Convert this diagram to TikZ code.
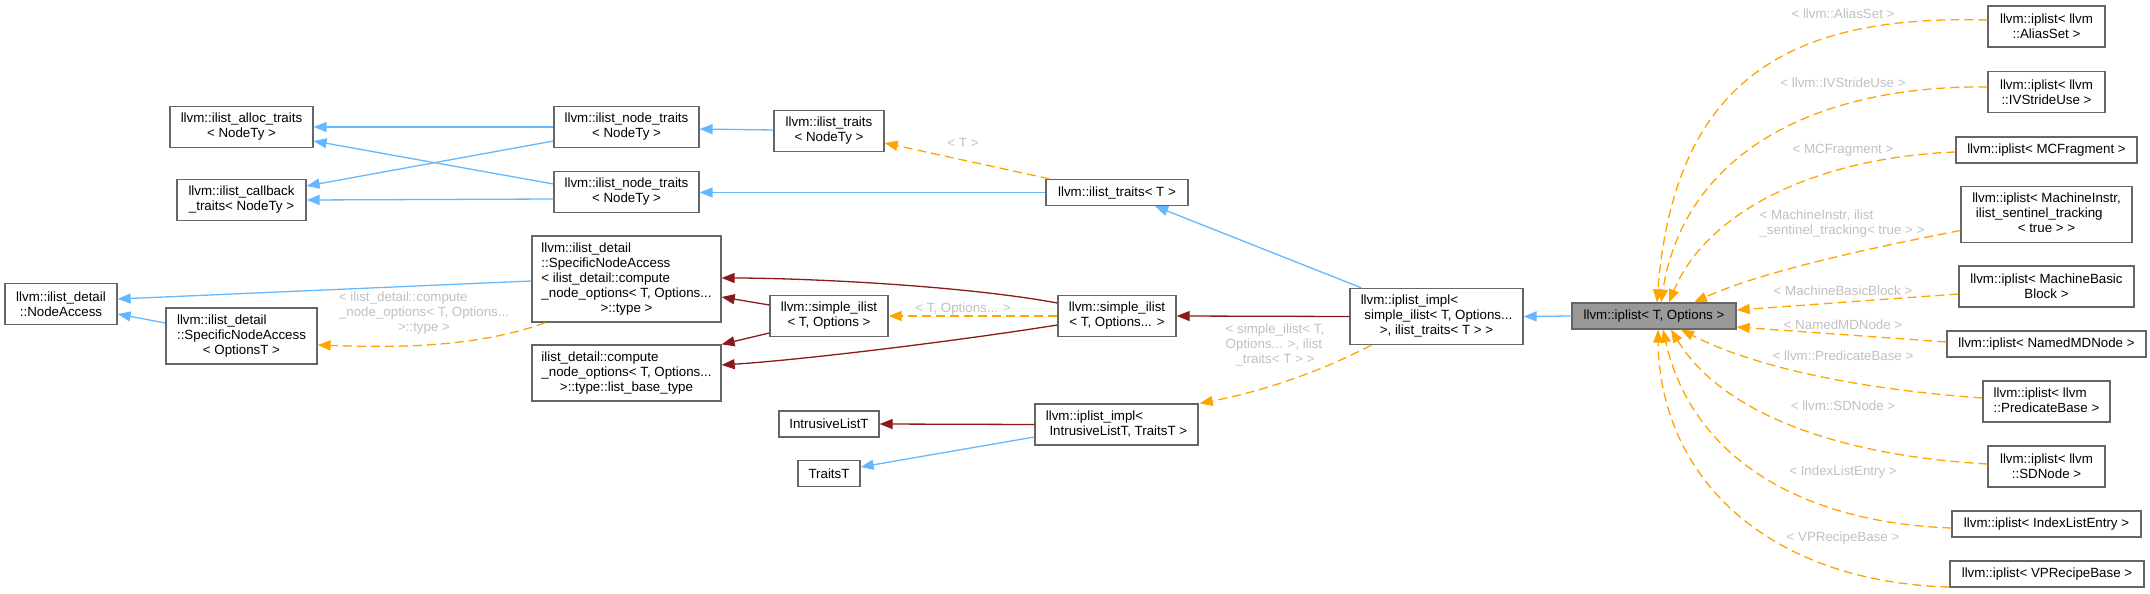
\documentclass[tikz,border=0pt]{standalone}
\usepackage{fontspec}
\setmainfont{Liberation Sans}
\usetikzlibrary{arrows.meta,calc}
\definecolor{pubblue}{HTML}{63B8FF}
\definecolor{privred}{HTML}{8B1A1A}
\definecolor{tmplorange}{HTML}{FFA500}
\definecolor{nodeborder}{HTML}{666666}
\definecolor{rootfill}{HTML}{999999}
\definecolor{lblgrey}{HTML}{C0C0C0}
\newcommand{\lastc}[1]{\multicolumn{1}{@{}c@{}}{#1}}
\newcommand{\ltab}[1]{\begin{tabular}{@{}l@{}}#1\end{tabular}}
\begin{document}
\begin{tikzpicture}[x=1pt,y=-1pt,
  txt/.style={font=\fontsize{13.33}{15}\selectfont},
  box/.style={txt, draw=nodeborder, fill=white, line width=1.3pt, inner sep=0pt, align=center},
  root/.style={box, fill=rootfill},
  lbl/.style={txt, text=lblgrey, inner sep=0pt, align=center},
  edge/.style={line width=1.3pt, -{Triangle[length=13pt,width=10pt]}},
  pub/.style={edge, draw=pubblue},
  priv/.style={edge, draw=privred},
  tmpl/.style={edge, draw=tmplorange, dash pattern=on 9pt off 5pt}]
\useasboundingbox (0,0) rectangle (2150,594);

% left part
\node[box, minimum width=143, minimum height=41] (alloc) at (241.5,127) {llvm::ilist\_alloc\_traits\\< NodeTy >};
\node[box, minimum width=129, minimum height=41] (callback) at (241.5,200) {llvm::ilist\_callback\\\_traits< NodeTy >};
\node[box, minimum width=112, minimum height=41] (nacc) at (61,304) {llvm::ilist\_detail\\::NodeAccess};
\node[box, minimum width=151, minimum height=56] (snao) at (241.5,336) {\ltab{llvm::ilist\_detail\\::SpecificNodeAccess\\\lastc{< OptionsT >}}};
\node[box, minimum width=145, minimum height=41] (nt1) at (626.5,127) {llvm::ilist\_node\_traits\\< NodeTy >};
\node[box, minimum width=145, minimum height=41] (nt2) at (626.5,192) {llvm::ilist\_node\_traits\\< NodeTy >};
\node[box, minimum width=110, minimum height=41] (itn) at (829,131) {llvm::ilist\_traits\\< NodeTy >};
\node[box, minimum width=189, minimum height=86] (snab) at (626.5,279) {\ltab{llvm::ilist\_detail\\::SpecificNodeAccess\\< ilist\_detail::compute\\\_node\_options< T, Options...\\\lastc{>::type >}}};
\node[box, minimum width=189, minimum height=56] (comp) at (626.5,373) {\ltab{ilist\_detail::compute\\\_node\_options< T, Options...\\\lastc{>::type::list\_base\_type}}};
\node[box, minimum width=118, minimum height=41] (simo) at (829,316) {llvm::simple\_ilist\\< T, Options >};
\node[box, minimum width=100, minimum height=26] (intr) at (829,424) {IntrusiveListT};
\node[box, minimum width=62, minimum height=26] (trT) at (829,473.5) {TraitsT};
\node[box, minimum width=142, minimum height=26] (itT) at (1117,192.5) {llvm::ilist\_traits< T >};
\node[box, minimum width=118, minimum height=41] (simd) at (1117,316) {llvm::simple\_ilist\\< T, Options... >};
\node[box, minimum width=163, minimum height=41] (implI) at (1116.5,424.5) {\ltab{llvm::iplist\_impl<\\\lastc{\ IntrusiveListT, TraitsT >}}};
\node[box, minimum width=173, minimum height=56] (implS) at (1436.5,316.5) {\ltab{llvm::iplist\_impl<\\\ simple\_ilist< T, Options...\\\lastc{>, ilist\_traits< T > >}}};
\node[root, minimum width=164, minimum height=26] (ipl) at (1654,316) {llvm::iplist< T, Options >};

% right column
\node[box, minimum width=117, minimum height=41] (alias) at (2046.5,26.5) {llvm::iplist< llvm\\::AliasSet >};
\node[box, minimum width=117, minimum height=41] (ivs) at (2046.5,92) {llvm::iplist< llvm\\::IVStrideUse >};
\node[box, minimum width=181, minimum height=26] (mcf) at (2046.5,150) {llvm::iplist< MCFragment >};
\node[box, minimum width=171, minimum height=56] (mi) at (2046.5,214.5) {\ltab{llvm::iplist< MachineInstr,\\\ ilist\_sentinel\_tracking\\\lastc{< true > >}}};
\node[box, minimum width=175, minimum height=41] (mbb) at (2046.5,286.5) {llvm::iplist< MachineBasic\\Block >};
\node[box, minimum width=199, minimum height=26] (named) at (2046.5,344) {llvm::iplist< NamedMDNode >};
\node[box, minimum width=127, minimum height=41] (pred) at (2046.5,401.5) {\ltab{llvm::iplist< llvm\\\lastc{::PredicateBase >}}};
\node[box, minimum width=117, minimum height=41] (sd) at (2046.5,466.5) {llvm::iplist< llvm\\::SDNode >};
\node[box, minimum width=189, minimum height=26] (idx) at (2046.5,524) {llvm::iplist< IndexListEntry >};
\node[box, minimum width=194, minimum height=26] (vp) at (2047,574) {llvm::iplist< VPRecipeBase >};

% edge labels
\node[lbl] (lT) at (963,143) {< T >};
\node[lbl] (lTO) at (963,309) {< T, Options... >};
\node[lbl] (lsna) at (424,313) {\ltab{< ilist\_detail::compute\\\_node\_options< T, Options...\\\lastc{>::type >}}};
\node[lbl] (limpl) at (1275,345) {\ltab{< simple\_ilist< T,\\Options... >, ilist\\\lastc{\_traits< T > >}}};
\node[lbl] (lalias) at (1843,14) {< llvm::AliasSet >};
\node[lbl] (livs) at (1843,83) {< llvm::IVStrideUse >};
\node[lbl] (lmcf) at (1843,150) {< MCFragment >};
\node[lbl] (lmi) at (1842,223.5) {\ltab{< MachineInstr, ilist\\\lastc{\_sentinel\_tracking< true > >}}};
\node[lbl] (lmbb) at (1843,291) {< MachineBasicBlock >};
\node[lbl] (lnamed) at (1843,325) {< NamedMDNode >};
\node[lbl] (lpred) at (1843,356) {< llvm::PredicateBase >};
\node[lbl] (lsd) at (1843,406) {< llvm::SDNode >};
\node[lbl] (lidx) at (1843,472) {< IndexListEntry >};
\node[lbl] (lvp) at (1843,538) {< VPRecipeBase >};

% edges, left part
\draw[pub] (nt1.west) -- (alloc.east);
\draw[pub] ($(nt1.west)+(0,14)$) -- ($(callback.east)+(0,-14)$);
\draw[pub] ($(nt2.west)+(0,-8)$) -- ($(alloc.east)+(0,14)$);
\draw[pub] ($(nt2.west)+(0,7)$) -- (callback.east);
\draw[pub] ($(itn.west)+(0,-1)$) -- ($(nt1.east)+(0,2)$);
\draw[pub] (itT.west) -- ($(nt2.east)+(0,0.5)$);
\draw[tmpl] ($(itT.north west)+(4,0)$) -- ($(itn.east)+(0,12)$);
\draw[pub] ($(implS.north west)+(12,0)$) -- ($(itT.south)+(38,0)$);
\draw[pub] ($(snab.west)+(0,2)$) -- ($(nacc.east)+(0,-5)$);
\draw[pub] ($(snao.west)+(0,-13)$) -- ($(nacc.east)+(0,10)$);
\draw[priv] ($(simo.west)+(0,-11)$) -- ($(snab.east)+(0,18)$);
\draw[priv] ($(simo.west)+(0,17)$) -- (comp.north east);
\draw[priv] ($(simd.west)+(0,-13)$) .. controls (960,285) and (800,278) .. ($(snab.east)+(0,-1)$);
\draw[priv] ($(simd.west)+(0,9)$) .. controls (950,342) and (800,360) .. ($(comp.east)+(0,-8)$);
\draw[tmpl] (simd.west) -- (simo.east);
\draw[tmpl] ($(snab.south west)+(14,0)$) .. controls (470,350) and (380,347) .. ($(snao.east)+(0,9)$);
\draw[priv] (implS.west) -- (simd.east);
\draw[priv] (implI.west) -- (intr.east);
\draw[pub] ($(implI.west)+(0,12.5)$) -- ($(trT.east)+(0,-6.5)$);
\draw[tmpl] ($(implS.south west)+(22,0)$) .. controls (1320,372) and (1260,392) .. ($(implI.north east)+(1,0)$);
\draw[pub] (ipl.west) -- (implS.east);

% edges, right column
\draw[tmpl] ($(alias.west)+(0,-6.5)$) .. controls (1800,15) and (1675,70) .. ($(ipl.north)+(3,0)$);
\draw[tmpl] ($(ivs.west)+(0,-5)$) .. controls (1820,85) and (1685,150) .. ($(ipl.north)+(7,0)$);
\draw[tmpl] ($(mcf.west)+(0,2)$) .. controls (1810,158) and (1705,215) .. ($(ipl.north)+(15,0)$);
\draw[tmpl] ($(mi.west)+(0,16)$) .. controls (1870,248) and (1760,272) .. ($(ipl.north)+(40,0)$);
\draw[tmpl] ($(mbb.west)+(0,7.5)$) -- ($(ipl.east)+(0,-6)$);
\draw[tmpl] ($(named.west)+(0,-2)$) -- ($(ipl.east)+(0,11)$);
\draw[tmpl] ($(pred.west)+(0,-3.5)$) .. controls (1870,390) and (1760,370) .. ($(ipl.south)+(27,0)$);
\draw[tmpl] ($(sd.west)+(0,-2.5)$) .. controls (1830,455) and (1720,410) .. ($(ipl.south)+(17,0)$);
\draw[tmpl] ($(idx.west)+(0,4)$) .. controls (1790,522) and (1690,450) .. ($(ipl.south)+(9,0)$);
\draw[tmpl] ($(vp.west)+(0,13)$) .. controls (1770,582) and (1660,480) .. ($(ipl.south)+(4,0)$);
\end{tikzpicture}
\end{document}
